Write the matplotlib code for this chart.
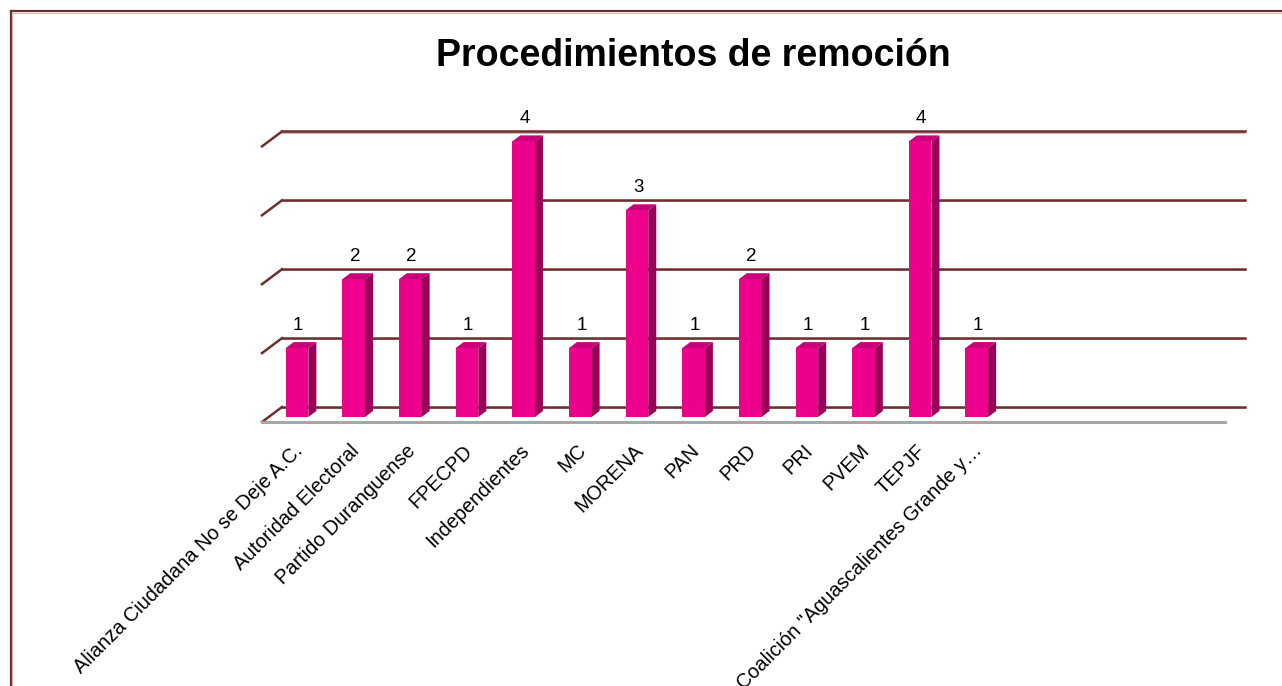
import matplotlib
matplotlib.use("Agg")
import matplotlib.pyplot as plt
from matplotlib.patches import Polygon
from matplotlib.lines import Line2D

plt.rcParams['font.family'] = ['Liberation Sans', 'DejaVu Sans']

categories = [
    "Alianza Ciudadana No se Deje A.C.",
    "Autoridad Electoral",
    "Partido Duranguense",
    "FPECPD",
    "Independientes",
    "MC",
    "MORENA",
    "PAN",
    "PRD",
    "PRI",
    "PVEM",
    "TEPJF",
    "Coalición \"Aguascalientes Grande y…",
]
values = [1, 2, 2, 1, 4, 1, 3, 1, 2, 1, 1, 4, 1]
n_slots = 17
y_ticks = [0, 1, 2, 3, 4]
title = "Procedimientos de remoción"

W, H = 1282, 686
fig = plt.figure(figsize=(W / 100, H / 100), dpi=100)

# front plane of bars
left_px, right_px = 268.7, 1231.7
bottom_px, top_px = 417.0, 141.4
ax = fig.add_axes([left_px / W, 1 - bottom_px / H,
                   (right_px - left_px) / W, (bottom_px - top_px) / H])
ax.set_xlim(-0.5, n_slots - 0.5)
ax.set_ylim(0, 4)
ax.axis('off')

# pixel -> data conversions
ux = (n_slots) / (right_px - left_px)
uy = 4 / (bottom_px - top_px)

front_col = '#EC008C'
side_col = '#990058'
top_col = '#C8007A'
grid_col = '#6E2E2E'
grid_shadow = '#C9A3A3'

# offsets (px): back wall (+13.3, up 10), floor front (-6.7, down 5)
bdx, bdy = 13.3 * ux, 10 * uy
fdx, fdy = -6.7 * ux, -5 * uy

for t in y_ticks:
    ax.add_line(Line2D([-0.5 + bdx, n_slots - 0.5 + bdx], [t + bdy - 1.2 * uy, t + bdy - 1.2 * uy],
                       color=grid_shadow, lw=1.2, clip_on=False, zorder=1))
    ax.add_line(Line2D([-0.5 + bdx, n_slots - 0.5 + bdx], [t + bdy, t + bdy],
                       color=grid_col, lw=1.8, clip_on=False, zorder=1.1))
    ax.add_line(Line2D([-0.5 + fdx, -0.5 + bdx], [t + fdy, t + bdy],
                       color=grid_col, lw=1.8, clip_on=False, zorder=1.1))

ax.add_line(Line2D([-0.5 + fdx, n_slots - 0.5 + fdx], [fdy, fdy],
                   color='#A6A6A6', lw=2.2, clip_on=False, zorder=1.2))

bw = 0.4
ddx, ddy = 8 * ux, 6 * uy
for i, v in enumerate(values):
    x0, x1 = i - bw / 2, i + bw / 2
    side = Polygon([(x1, 0), (x1 + ddx, ddy), (x1 + ddx, v + ddy), (x1, v)],
                   closed=True, facecolor=side_col, edgecolor='none', zorder=3, clip_on=False)
    topf = Polygon([(x0, v), (x0 + ddx, v + ddy), (x1 + ddx, v + ddy), (x1, v)],
                   closed=True, facecolor=top_col, edgecolor='none', zorder=3, clip_on=False)
    ax.add_patch(side)
    ax.add_patch(topf)
ax.bar(range(len(values)), values, width=bw, color=front_col, zorder=4, clip_on=False)

for i, v in enumerate(values):
    ax.text(i + 0.02, v + 23 * uy, str(v), ha='center', va='center',
            fontsize=13.5, color='black', zorder=5)

for i, c in enumerate(categories):
    ax.text(i - 4 * ux, -24 * uy, c, rotation=45, rotation_mode='anchor',
            ha='right', va='top', fontsize=14.3, color='black')

fig.text(693 / W, 1 - 56 / H, title, ha='center', va='center',
         fontsize=27, fontweight='bold', color='black')

fig.add_artist(Line2D([10.5 / W, 10.5 / W], [0, 1 - 11 / H], transform=fig.transFigure,
                      color='#6E2E2E', lw=1.6))
fig.add_artist(Line2D([10.5 / W, 1], [1 - 11 / H, 1 - 11 / H], transform=fig.transFigure,
                      color='#6E2E2E', lw=1.6))
fig.add_artist(Line2D([12 / W, 12 / W], [0, 1 - 12.5 / H], transform=fig.transFigure,
                      color='#D8B8B8', lw=0.8))
fig.add_artist(Line2D([12 / W, 1], [1 - 12.5 / H, 1 - 12.5 / H], transform=fig.transFigure,
                      color='#D8B8B8', lw=0.8))

fig.savefig('out.png', dpi=100)
